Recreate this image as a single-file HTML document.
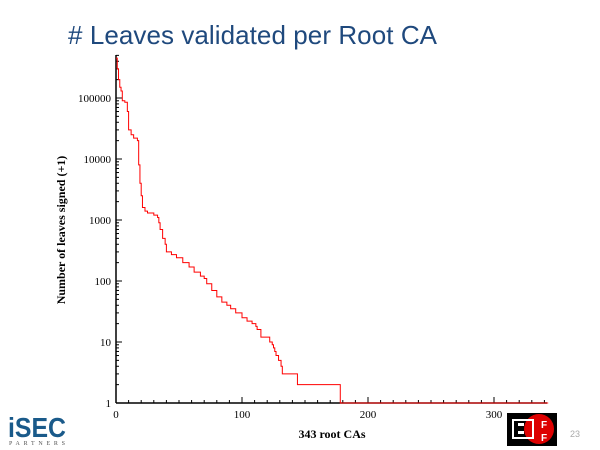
<!DOCTYPE html>
<html><head><meta charset="utf-8"><style>
body{margin:0;background:#fff;width:600px;height:450px;overflow:hidden}
svg{display:block}
</style></head><body>
<svg width="600" height="450" xmlns="http://www.w3.org/2000/svg">
<text x="68" y="44" font-family="Liberation Sans, sans-serif" font-size="26" fill="#1f497d" textLength="369"># Leaves validated per Root CA</text>
<g id="chart"></g>
<text transform="translate(65,230) rotate(-90)" text-anchor="middle" font-family="Liberation Serif, serif" font-weight="bold" font-size="12">Number of leaves signed (+1)</text>
<text x="332" y="438" text-anchor="middle" font-family="Liberation Serif, serif" font-weight="bold" font-size="12">343 root CAs</text>
<g>
<text x="8" y="437" font-family="Liberation Sans, sans-serif" font-weight="bold" font-size="28" fill="#1a5a8a" textLength="58" lengthAdjust="spacingAndGlyphs">iSEC</text>
<text x="9" y="445" font-family="Liberation Serif, serif" font-size="6" fill="#555" textLength="56">PARTNERS</text>
</g>
<g>
<rect x="507" y="413" width="50" height="33" fill="#000"/>
<circle cx="539" cy="429" r="15" fill="#d00"/>
<rect x="513" y="420" width="20" height="18" fill="none" stroke="#fff" stroke-width="2"/>
<rect x="518" y="423" width="6" height="3" fill="#fff"/>
<rect x="518" y="431" width="6" height="3" fill="#fff"/>
<text x="541" y="428" font-family="Liberation Sans, sans-serif" font-weight="bold" font-size="10" fill="#fff">F</text>
<text x="541" y="441" font-family="Liberation Sans, sans-serif" font-weight="bold" font-size="10" fill="#fff">F</text>
</g>
<text x="570" y="437" font-family="Liberation Sans, sans-serif" font-size="9" fill="#aaa">23</text>
</svg>
<script>
const indices=[0,1,2,3,4,5,7,9,10,12,14,17,18,19,20,21,23,25,30,33,34,35,37,39,40,44,48,53,58,62,67,70,72,76,80,84,88,91,95,100,104,108,111,112,115,121,122,124,125,126,127,129,131,132,143,144,177,178,343];
const counts=[450000,300000,200000,150000,130000,90000,85000,60000,30000,25000,22000,20000,8000,4000,2500,1600,1400,1300,1200,1100,900,700,500,400,300,270,240,200,170,140,120,110,90,70,55,45,40,35,30,25,22,20,18,16,12,12,10,9,8,7,6,5,4,3,3,2,2,1,1];
const xTicks=[0,100,200,300];
const yTicks=[1,10,100,1000,10000,100000];
const NS='http://www.w3.org/2000/svg';
const g=document.getElementById('chart');
const X0=116,XS=1.26,Y0=403,YD=61;
const sx=v=>X0+v*XS;
const sy=v=>Y0-Math.log10(v)*YD;
function mk(t,a){const e=document.createElementNS(NS,t);for(const k in a)e.setAttribute(k,a[k]);g.appendChild(e);return e;}
const ya=mk('line',{x1:X0,y1:55,x2:X0,y2:Y0,stroke:'#000','stroke-width':1.5});


const xa=mk('line',{x1:X0,y1:Y0,x2:547,y2:Y0,stroke:'#000','stroke-width':1.5});


for(let d=0;d<6;d++){for(let m=2;m<10;m++){const y=sy(m*Math.pow(10,d));if(y<55)continue;mk('line',{x1:X0,y1:y,x2:X0+3,y2:y,stroke:'#000','stroke-width':1});}}
for(let v=10;v<=340;v+=10){mk('line',{x1:sx(v),y1:Y0,x2:sx(v),y2:Y0-3,stroke:'#000','stroke-width':1});}
yTicks.forEach(v=>{mk('line',{x1:X0,y1:sy(v),x2:X0+6,y2:sy(v),stroke:'#000','stroke-width':1});
const t=mk('text',{x:X0-5,y:sy(v)+4,'text-anchor':'end','font-family':'Liberation Serif, serif','font-size':11});t.textContent=v;

});
xTicks.forEach(v=>{mk('line',{x1:sx(v),y1:Y0,x2:sx(v),y2:Y0-6,stroke:'#000','stroke-width':1});
const t=mk('text',{x:sx(v),y:Y0+15,'text-anchor':'middle','font-family':'Liberation Serif, serif','font-size':11});t.textContent=v;

});
let d='M'+sx(indices[0])+','+sy(counts[0]);
for(let i=1;i<indices.length;i++){d+=' L'+sx(indices[i])+','+sy(counts[i-1])+' L'+sx(indices[i])+','+sy(counts[i]);}
const p=mk('path',{d:d,fill:'none',stroke:'#f00','stroke-width':1});


</script>
</body></html>
